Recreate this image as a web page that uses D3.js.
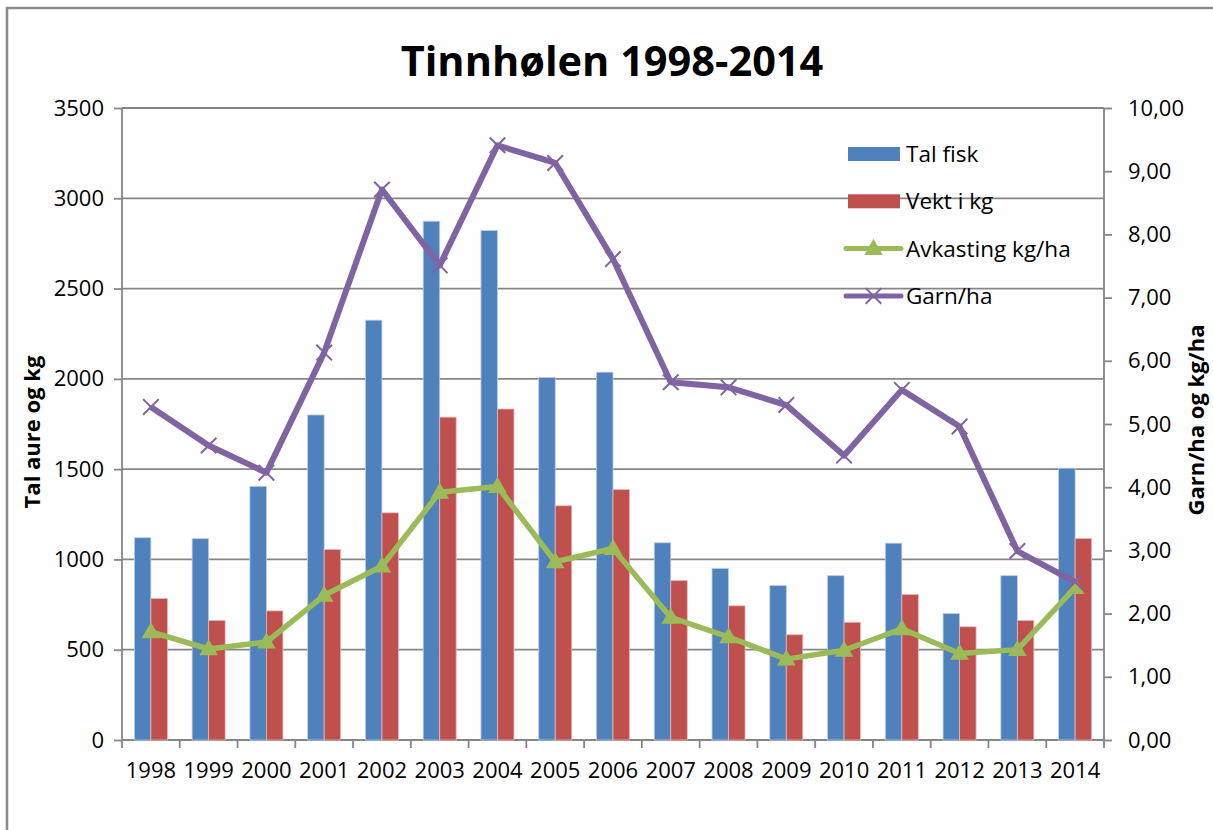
<!DOCTYPE html>
<html>
<head>
<meta charset="utf-8">
<script src="https://cdn.jsdelivr.net/npm/d3@7"></script>
<style>
	body { margin: 0; background: #fff; }
	svg text { font-family: "Open Sans", sans-serif; fill: #000; }
</style>
</head>
<body>
<div id="chart"></div>
<script>
// data
var years = ["1998", "1999", "2000", "2001", "2002", "2003", "2004", "2005", "2006",
             "2007", "2008", "2009", "2010", "2011", "2012", "2013", "2014"];
var talFisk = [1120, 1115, 1405, 1800, 2325, 2873, 2822, 2008, 2037, 1092, 950, 855, 910, 1090, 700, 910, 1505];
var vektKg = [784, 662, 715, 1055, 1258, 1788, 1833, 1297, 1387, 883, 743, 583, 652, 806, 627, 662, 1116];
var avkasting = [1.71, 1.44, 1.55, 2.29, 2.75, 3.92, 4.01, 2.82, 3.03, 1.94, 1.63, 1.28, 1.42, 1.76, 1.37, 1.43, 2.41];
var garnHa = [5.27, 4.66, 4.23, 6.13, 8.71, 7.51, 9.41, 9.13, 7.61, 5.66, 5.58, 5.30, 4.50, 5.54, 4.96, 2.99, 2.50];
var leftTicks = [0, 500, 1000, 1500, 2000, 2500, 3000, 3500];
var rightTicks = [0, 1, 2, 3, 4, 5, 6, 7, 8, 9, 10];

var legendItems = [
	{name: "Tal fisk", color: "#4f81bd", type: "bar"},
	{name: "Vekt i kg", color: "#c0504d", type: "bar"},
	{name: "Avkasting kg/ha", color: "#9bbb59", type: "tri"},
	{name: "Garn/ha", color: "#8064a2", type: "x"}
];

var width = 1213, height = 830;
var plot = {left: 122, right: 1104, top: 108, bottom: 740};
var gridColor = "#868686";

var svg = d3.select("#chart").append("svg")
	.attr("width", width)
	.attr("height", height);

// outer chart frame (right and bottom edges fall outside the picture)
svg.append("rect")
	.attr("x", 7).attr("y", 8)
	.attr("width", width + 20).attr("height", height + 20)
	.attr("fill", "#fff")
	.attr("stroke", "#8c8c8c")
	.attr("stroke-width", 2.5);

var x = d3.scaleBand().domain(years).range([plot.left, plot.right]).padding(0);
var x1 = d3.scaleBand().domain(["fisk", "vekt"]).range([0, x.bandwidth()])
	.paddingInner(0).paddingOuter(0.75);
var yL = d3.scaleLinear().domain([0, 3500]).range([plot.bottom, plot.top]);
var yR = d3.scaleLinear().domain([0, 10]).range([plot.bottom, plot.top]);

// gridlines
svg.append("g").selectAll("line")
	.data(leftTicks.slice(1))
	.join("line")
	.attr("x1", plot.left).attr("x2", plot.right)
	.attr("y1", d => yL(d)).attr("y2", d => yL(d))
	.attr("stroke", gridColor)
	.attr("stroke-width", 1.8);

// left axis
var axL = svg.append("g")
	.attr("transform", "translate(" + plot.left + ",0)")
	.call(d3.axisLeft(yL).tickValues(leftTicks).tickSize(8).tickPadding(10).tickFormat(d3.format("d")));
// right axis
var axR = svg.append("g")
	.attr("transform", "translate(" + plot.right + ",0)")
	.call(d3.axisRight(yR).tickValues(rightTicks).tickSize(8).tickPadding(16)
		.tickFormat(d => d3.format(".2f")(d).replace(".", ",")));
// bottom axis: ticks at band edges
var axB = svg.append("g")
	.attr("transform", "translate(0," + plot.bottom + ")")
	.call(d3.axisBottom(x).tickSize(0).tickPadding(22));
axB.selectAll(".tick").append("line")
	.attr("x1", -x.bandwidth() / 2).attr("x2", -x.bandwidth() / 2)
	.attr("y1", 0).attr("y2", 8);
axB.append("line")
	.attr("x1", plot.right).attr("x2", plot.right)
	.attr("y1", 0).attr("y2", 8);

[axL, axR, axB].forEach(function(ax) {
	ax.selectAll(".domain").attr("stroke", gridColor).attr("stroke-width", 1.8);
	ax.selectAll("line").attr("stroke", gridColor).attr("stroke-width", 1.8);
	ax.selectAll("text")
		.style("font-family", "'Open Sans', sans-serif")
		.style("font-size", "22px")
		.attr("fill", "#000");
});
axB.selectAll(".domain").attr("d", "M" + plot.left + ",0H" + plot.right);
axL.selectAll(".domain").attr("d", "M0," + plot.top + "V" + plot.bottom);
axR.selectAll(".domain").attr("d", "M0," + plot.top + "V" + plot.bottom);

// bars
var bars = svg.append("g");
bars.selectAll("rect.fisk")
	.data(talFisk)
	.join("rect")
	.attr("class", "fisk")
	.attr("x", (d, i) => x(years[i]) + x1("fisk"))
	.attr("y", d => yL(d))
	.attr("width", x1.bandwidth())
	.attr("height", d => yL(0) - yL(d))
	.attr("fill", "#4f81bd")
	.attr("stroke", "#b9cde5").attr("stroke-width", 0.8);
bars.selectAll("rect.vekt")
	.data(vektKg)
	.join("rect")
	.attr("class", "vekt")
	.attr("x", (d, i) => x(years[i]) + x1("vekt"))
	.attr("y", d => yL(d))
	.attr("width", x1.bandwidth())
	.attr("height", d => yL(0) - yL(d))
	.attr("fill", "#c0504d")
	.attr("stroke", "#e6b9b8").attr("stroke-width", 0.8);

var cx = (d, i) => x(years[i]) + x.bandwidth() / 2;

// Avkasting line with triangles
var line = d3.line().x(cx).y(d => yR(d));
svg.append("path")
	.datum(avkasting)
	.attr("d", line)
	.attr("fill", "none")
	.attr("stroke", "#9bbb59")
	.attr("stroke-width", 5.5)
	.attr("stroke-linejoin", "round");
var tri = d3.symbol().type(d3.symbolTriangle).size(150);
svg.append("g").selectAll("path")
	.data(avkasting)
	.join("path")
	.attr("d", tri)
	.attr("transform", (d, i) => "translate(" + cx(d, i) + "," + (yR(d) + 1) + ")")
	.attr("fill", "#9bbb59");

// Garn/ha line with x markers
svg.append("path")
	.datum(garnHa)
	.attr("d", line)
	.attr("fill", "none")
	.attr("stroke", "#8064a2")
	.attr("stroke-width", 6)
	.attr("stroke-linejoin", "round");
var cross = d3.symbol().type(d3.symbolX).size(160);
svg.append("g").selectAll("path")
	.data(garnHa)
	.join("path")
	.attr("d", cross)
	.attr("transform", (d, i) => "translate(" + cx(d, i) + "," + yR(d) + ")")
	.attr("fill", "none")
	.attr("stroke", "#8064a2")
	.attr("stroke-width", 2);

// title
svg.append("text")
	.attr("x", 612).attr("y", 76)
	.attr("text-anchor", "middle")
	.style("font-size", "41.5px")
	.style("font-weight", "bold")
	.text("Tinnhølen 1998-2014");

// axis titles
svg.append("text")
	.attr("transform", "translate(40,432) rotate(-90)")
	.attr("text-anchor", "middle")
	.style("font-size", "22px")
	.style("font-weight", "bold")
	.text("Tal aure og kg");
svg.append("text")
	.attr("transform", "translate(1204,420) rotate(-90)")
	.attr("text-anchor", "middle")
	.style("font-size", "22px")
	.style("font-weight", "bold")
	.text("Garn/ha og kg/ha");

// legend
var legend = svg.append("g").attr("transform", "translate(846,154)");
legendItems.forEach(function(item, idx) {
	var y = idx * 47.3;
	if (item.type === "bar") {
		legend.append("rect")
			.attr("x", 2).attr("y", y - 7)
			.attr("width", 52).attr("height", 14)
			.attr("fill", item.color);
	} else {
		legend.append("line")
			.attr("x1", 0).attr("x2", 55)
			.attr("y1", y).attr("y2", y)
			.attr("stroke", item.color)
			.attr("stroke-width", 5)
			.attr("stroke-linecap", "round");
		if (item.type === "tri") {
			legend.append("path")
				.attr("d", tri)
				.attr("transform", "translate(27.5," + (y + 1) + ")")
				.attr("fill", item.color);
		} else {
			legend.append("path")
				.attr("d", cross)
				.attr("transform", "translate(27.5," + y + ")")
				.attr("fill", "none")
				.attr("stroke", item.color)
				.attr("stroke-width", 2);
		}
	}
	legend.append("text")
		.attr("x", 60).attr("y", y)
		.attr("dy", "0.36em")
		.style("font-size", "22.5px")
		.text(item.name);
});
</script>
</body>
</html>
